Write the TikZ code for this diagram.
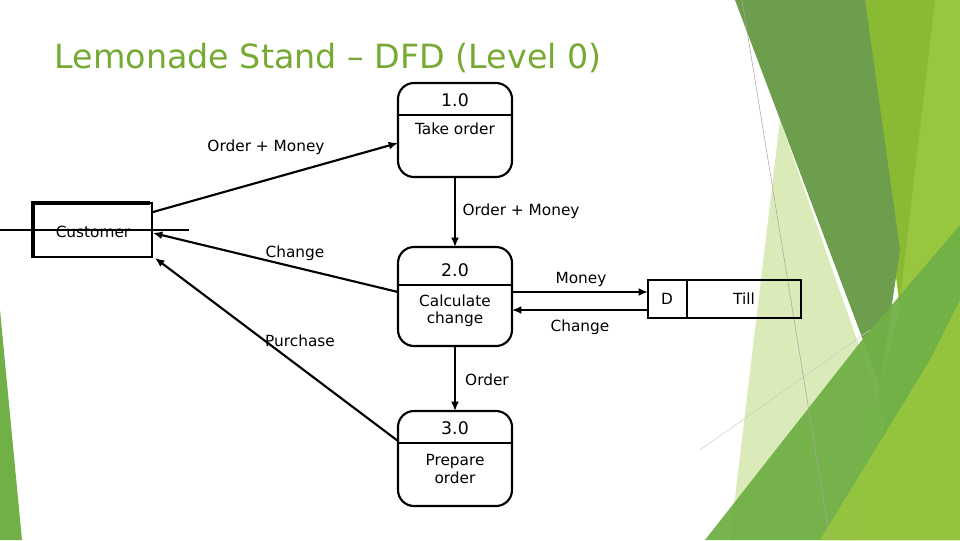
\documentclass[tikz,border=0pt]{standalone}
\usepackage{fontspec}
\setmainfont{DejaVu Sans}
\usetikzlibrary{arrows.meta}
\definecolor{titlegreen}{RGB}{118,170,52}
\definecolor{gdark}{RGB}{108,158,78}
\definecolor{gmid}{RGB}{138,185,52}
\definecolor{glight}{RGB}{152,198,62}
\definecolor{gpale}{RGB}{214,232,176}
\definecolor{gleaf}{RGB}{112,176,70}
\begin{document}
\begin{tikzpicture}[x=0.75pt,y=-0.75pt,
  proc/.style={draw,line width=1.6pt,rounded corners=12pt},
  flow/.style={line width=1.6pt,-{Latex[length=7pt,width=6pt]}},
  lbl/.style={font=\fontsize{11.5}{13}\selectfont},
  big/.style={font=\fontsize{13}{15}\selectfont}]
\useasboundingbox (0,0) rectangle (960,540);
% background decoration
\fill[glight] (862,0) -- (960,0) -- (960,540) -- (840,540) -- (900,310) -- cycle;
\fill[gmid] (862,0) -- (935,0) -- (900,300) -- cycle;
\fill[gpale,opacity=0.9] (780,120) -- (885,420) -- (860,540) -- (730,540) -- cycle;
\fill[gdark] (735,0) -- (865,0) -- (900,250) -- (880,385) -- cycle;
\fill[gleaf,opacity=0.95] (705,540) -- (862,340) -- (960,225) -- (960,540) -- cycle;
\fill[glight,opacity=0.9] (820,540) -- (930,360) -- (960,300) -- (960,540) -- cycle;
\draw[gray!70,line width=0.4pt] (742,0) -- (830,540);
\draw[gray!40,line width=0.4pt] (700,450) -- (870,330);
\fill[gleaf] (0,310) -- (22,540) -- (0,540) -- cycle;
% title
\node[anchor=west,text=titlegreen,font=\fontsize{25}{28}\selectfont] (title) at (50,58) {Lemonade Stand – DFD (Level 0)};
% customer
\node[draw,line width=1.2pt,minimum width=120\pgflinewidth,inner sep=0pt] (cust) at (92,230) {};
\draw[line width=1.2pt] (32,203) rectangle (152,257);
\draw[line width=3pt] (33,257) -- (33,203) -- (150,203);
\node[lbl] (custl) at (93,232) {Customer};
\coordinate (c1) at (153,212);
\coordinate (c2) at (153,233);
\coordinate (c3) at (155,258);
% processes
\draw[proc] (398,83) rectangle (512,177);
\draw[line width=1.6pt] (398,115) -- (512,115);
\node[big] (p1n) at (455,100) {1.0};
\node[lbl] (p1) at (455,129) {Take order};
\draw[proc] (398,247) rectangle (512,346);
\draw[line width=1.6pt] (398,285) -- (512,285);
\node[big] (p2n) at (455,270) {2.0};
\node[lbl,align=center] (p2) at (455,311) {Calculate\\change};
\draw[proc] (398,411) rectangle (512,506);
\draw[line width=1.6pt] (398,443) -- (512,443);
\node[big] (p3n) at (455,428) {3.0};
\node[lbl,align=center] (p3) at (455,469) {Prepare\\order};
% store
\draw[line width=1.6pt] (648,280) rectangle (801,318);
\draw[line width=1.6pt] (687,280) -- (687,318);
\node[lbl] (sd) at (667,299) {D};
\node[lbl] (st) at (744,299) {Till};
% connectors
\coordinate (p1l) at (398,143);
\coordinate (p1b) at (455,177);
\coordinate (p2t) at (455,247);
\coordinate (p2l) at (398,292);
\coordinate (p2b) at (455,346);
\coordinate (p3t) at (455,411);
\coordinate (p3l) at (398,441);
\coordinate (m1) at (512,292);
\coordinate (m2) at (648,292);
\coordinate (ch1) at (648,310);
\coordinate (ch2) at (512,310);
\draw[flow] (c1) -- (p1l);
\draw[flow] (p1b) -- (p2t);
\draw[flow] (p2l) -- (c2);
\draw[flow] (p2b) -- (p3t);
\draw[flow] (p3l) -- (c3);
\draw[flow] (m1) -- (m2);
\draw[flow] (ch1) -- (ch2);
% flow labels
\node[lbl] (f1) at (266,147) {Order + Money};
\node[lbl] (f2) at (521,211) {Order + Money};
\node[lbl] (f3) at (295,253) {Change};
\node[lbl] (f4) at (300,341) {Purchase};
\node[lbl] (f5) at (581,279) {Money};
\node[lbl] (f6) at (580,327) {Change};
\node[lbl] (f7) at (487,380) {Order};
\end{tikzpicture}
\end{document}
